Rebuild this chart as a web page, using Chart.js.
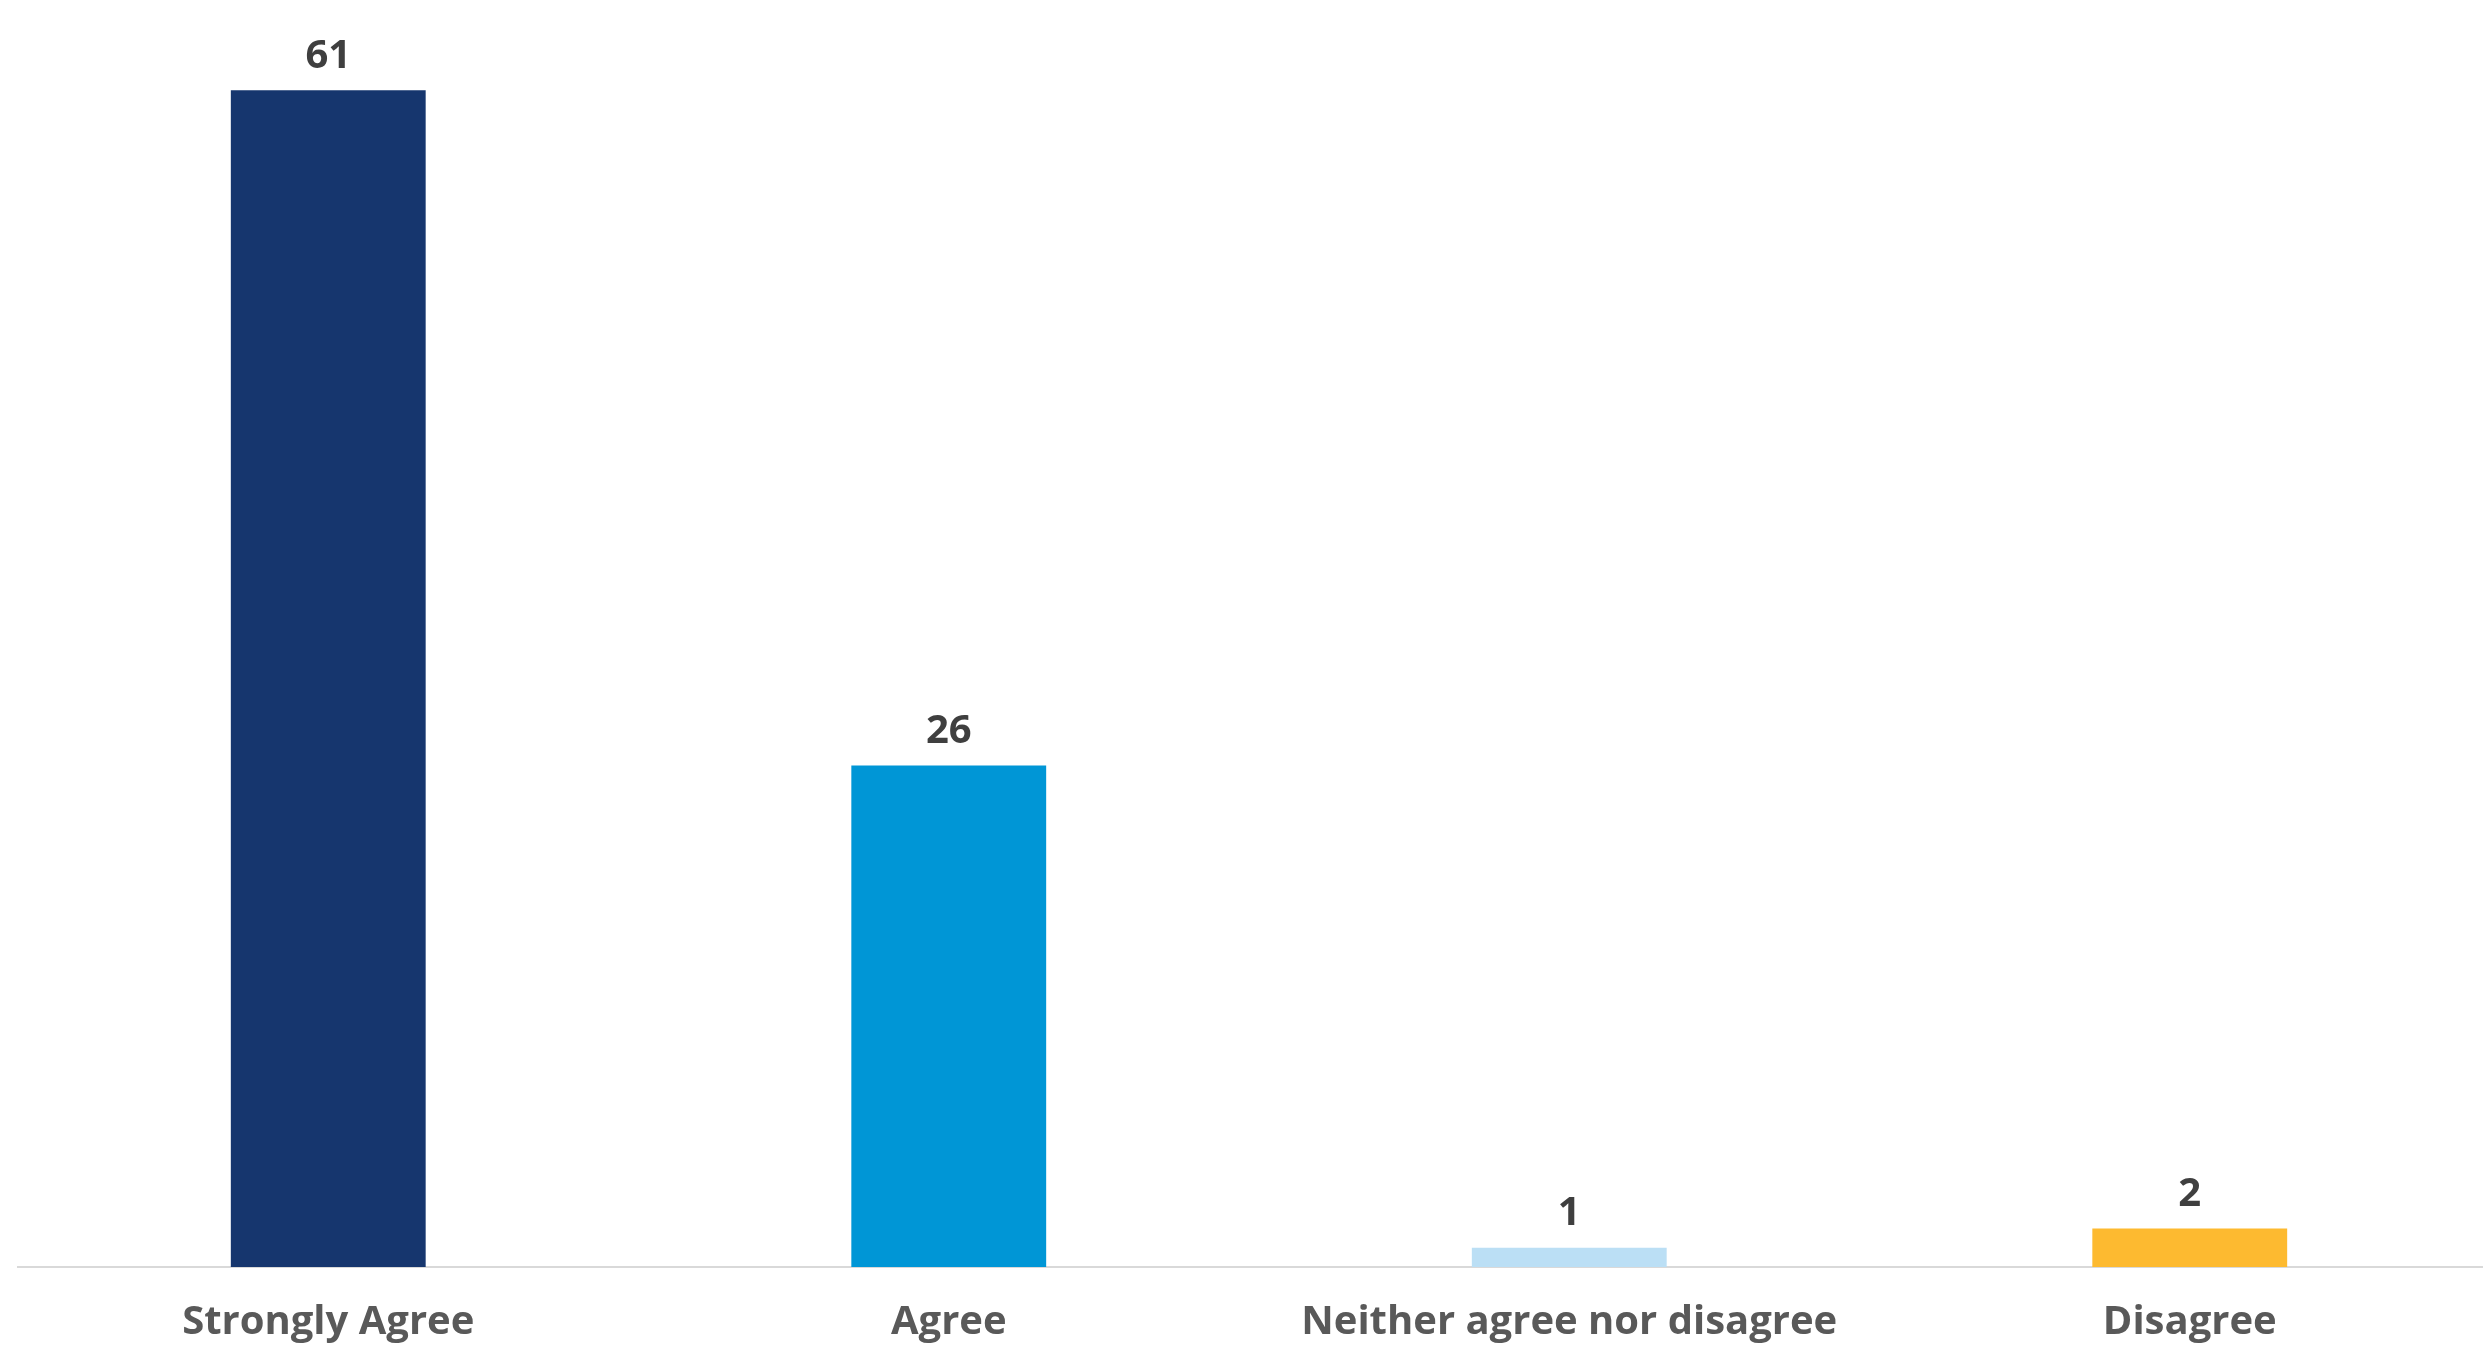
<!DOCTYPE html>
<html>
<head>
<meta charset="utf-8">
<script src="https://cdn.jsdelivr.net/npm/chart.js@4"></script>
<style>
    html, body { margin: 0; padding: 0; background: #ffffff; overflow: hidden; }
    #wrap { width: 2500px; height: 1348px; }
</style>
</head>
<body>
<div id="wrap"><canvas id="surveyChart"></canvas></div>
<script>
// survey answers and their counts
const categories = ['Strongly Agree', 'Agree', 'Neither agree nor disagree', 'Disagree'];
const responses = [61, 26, 1, 2];
const barColors = ['#16366e', '#0096d6', '#bbdff5', '#fdba30'];

// draws the number above each bar
const valueLabels = {
    id: 'valueLabels',
    afterDatasetsDraw(chart) {
        const ctx = chart.ctx;
        ctx.save();
        ctx.font = 'bold 40px "Open Sans"';
        ctx.fillStyle = '#3f3f3f';
        ctx.textAlign = 'center';
        ctx.textBaseline = 'bottom';
        chart.getDatasetMeta(0).data.forEach((bar, i) => {
            ctx.fillText(responses[i], bar.x, bar.y - 14);
        });
        ctx.restore();
    }
};

const ctx = document.getElementById('surveyChart').getContext('2d');
new Chart(ctx, {
    type: 'bar',
    data: {
        labels: categories,
        datasets: [{
            data: responses,
            backgroundColor: barColors,
            barPercentage: 0.314,
            categoryPercentage: 1.0
        }]
    },
    options: {
        responsive: true,
        maintainAspectRatio: false,
        animation: false,
        layout: { padding: { left: 18, right: 0, top: 13, bottom: 0 } },
        plugins: {
            legend: { display: false },
            tooltip: { enabled: false }
        },
        scales: {
            x: {
                grid: { display: false, drawTicks: false },
                border: { display: true, color: '#d9d9d9', width: 2 },
                ticks: {
                    color: '#595959',
                    padding: 32,
                    font: { family: 'Open Sans', size: 40, weight: 'bold' }
                },
                // keep the label strip the same height as the reference
                afterFit: function(scale) {
                    scale.height = 81;
                }
            },
            y: {
                display: false,
                min: 0,
                max: 65
            }
        }
    },
    plugins: [valueLabels]
});
</script>
</body>
</html>
